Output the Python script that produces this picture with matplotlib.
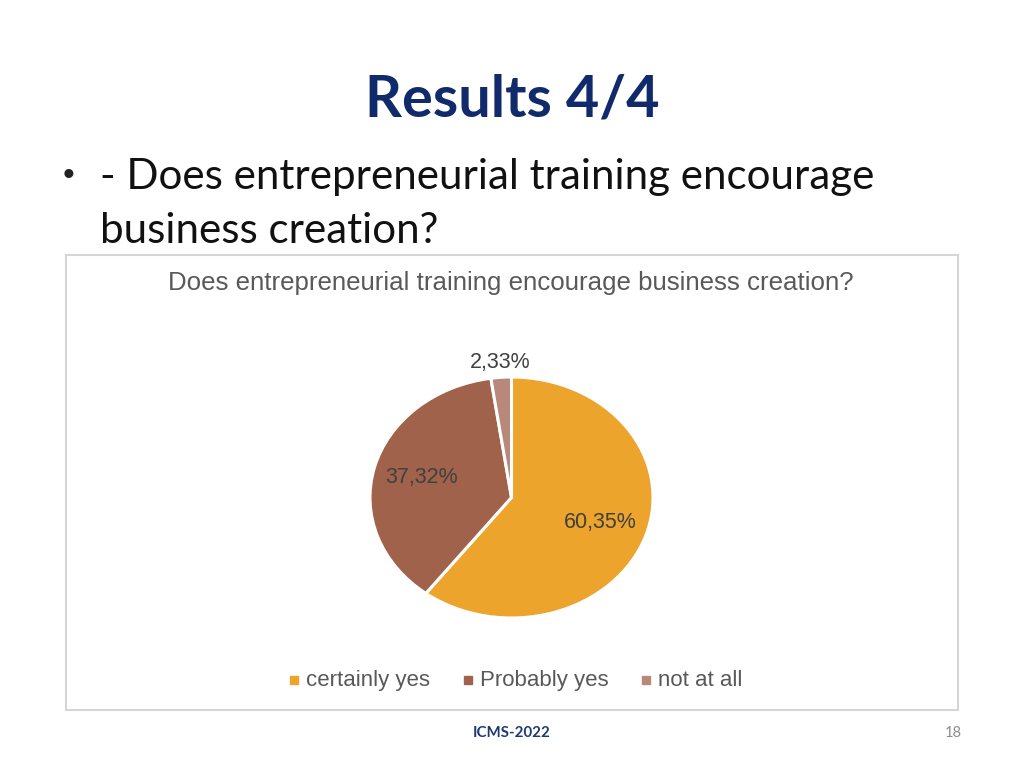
import matplotlib
matplotlib.use("Agg")
import matplotlib.pyplot as plt
import matplotlib.patches as mpatches
import numpy as np

# data
categories = ["certainly yes", "Probably yes", "not at all"]
shares = [60.35, 37.32, 2.33]
colors = ["#EDA42D", "#A0624A", "#B8887B"]

slide_title = "Results 4/4"
bullet_lines = ["- Does entrepreneurial training encourage", "business creation?"]
chart_title = "Does entrepreneurial training encourage business creation?"
footer = "ICMS-2022"
page_no = "18"

W, H = 1024, 768
fig = plt.figure(figsize=(W / 100, H / 100), dpi=100)
fig.patch.set_facecolor("white")


def fx(x):
    return x / W


def fy(y):
    return 1 - y / H


# slide text
fig.text(fx(512), fy(100), slide_title, ha="center", va="center", fontsize=41.5,
         fontweight="bold", color="#102A6B", family="Lato")
fig.text(fx(68), fy(177), "\u2022", ha="center", va="center", fontsize=24, color="#222222",
         family="Liberation Sans")
fig.text(fx(100), fy(177), bullet_lines[0], ha="left", va="center", fontsize=30.3,
         color="#111111", family="Lato")
fig.text(fx(100), fy(231), bullet_lines[1], ha="left", va="center", fontsize=30.3,
         color="#111111", family="Lato")
fig.text(fx(512), fy(733), footer, ha="center", va="center", fontsize=10.8,
         fontweight="bold", color="#1F3A70", family="Lato")
fig.text(fx(953), fy(733), page_no, ha="center", va="center", fontsize=10.5,
         color="#8C8C8C", family="Lato")

# chart frame
fig.patches.append(mpatches.Rectangle((fx(66), fy(710)), fx(958) - fx(66), fy(255) - fy(710),
                                      transform=fig.transFigure, fill=False,
                                      ec="#D6D6D6", lw=1.5))
fig.text(fx(511), fy(283), chart_title, ha="center", va="center", fontsize=18.6,
         color="#595959", family="Liberation Sans")

# pie (stretched horizontally like the original)
ax = fig.add_axes([fx(370), fy(618), fx(653) - fx(370), fy(377) - fy(618)])
wedges, _ = ax.pie(shares, colors=colors, startangle=90, counterclock=False,
                   wedgeprops=dict(edgecolor="white", linewidth=2.2))
ax.set_aspect("auto")
ax.set_xlim(-1, 1)
ax.set_ylim(-1, 1)
ax.axis("off")

for w, v in zip(wedges, shares):
    mid = np.deg2rad((w.theta1 + w.theta2) / 2)
    r = 1.12 if v < 5 else 0.66
    ax.text(r * np.cos(mid), r * np.sin(mid), f"{v:.2f}%".replace(".", ","),
            ha="center", va="center", fontsize=15.5, color="#404040",
            family="Liberation Sans")

# legend laid out by hand so all labels share one baseline
renderer = fig.canvas.get_renderer()
sq, pad, gap = 8, 8, 34
base_y = 686
items = []
for c, lab in zip(colors, categories):
    t = fig.text(0, fy(base_y), lab, ha="left", va="baseline", fontsize=16,
                 color="#595959", family="Liberation Sans")
    items.append((c, t, t.get_window_extent(renderer).width))
total = sum(sq + pad + tw for _, _, tw in items) + gap * (len(items) - 1)
x = 516 - total / 2
for c, t, tw in items:
    fig.patches.append(mpatches.Rectangle((fx(x), fy(base_y - 2)), fx(sq), sq / H,
                                          transform=fig.transFigure, color=c))
    t.set_x(fx(x + sq + pad))
    x += sq + pad + tw + gap

fig.savefig("out.png", dpi=100)
